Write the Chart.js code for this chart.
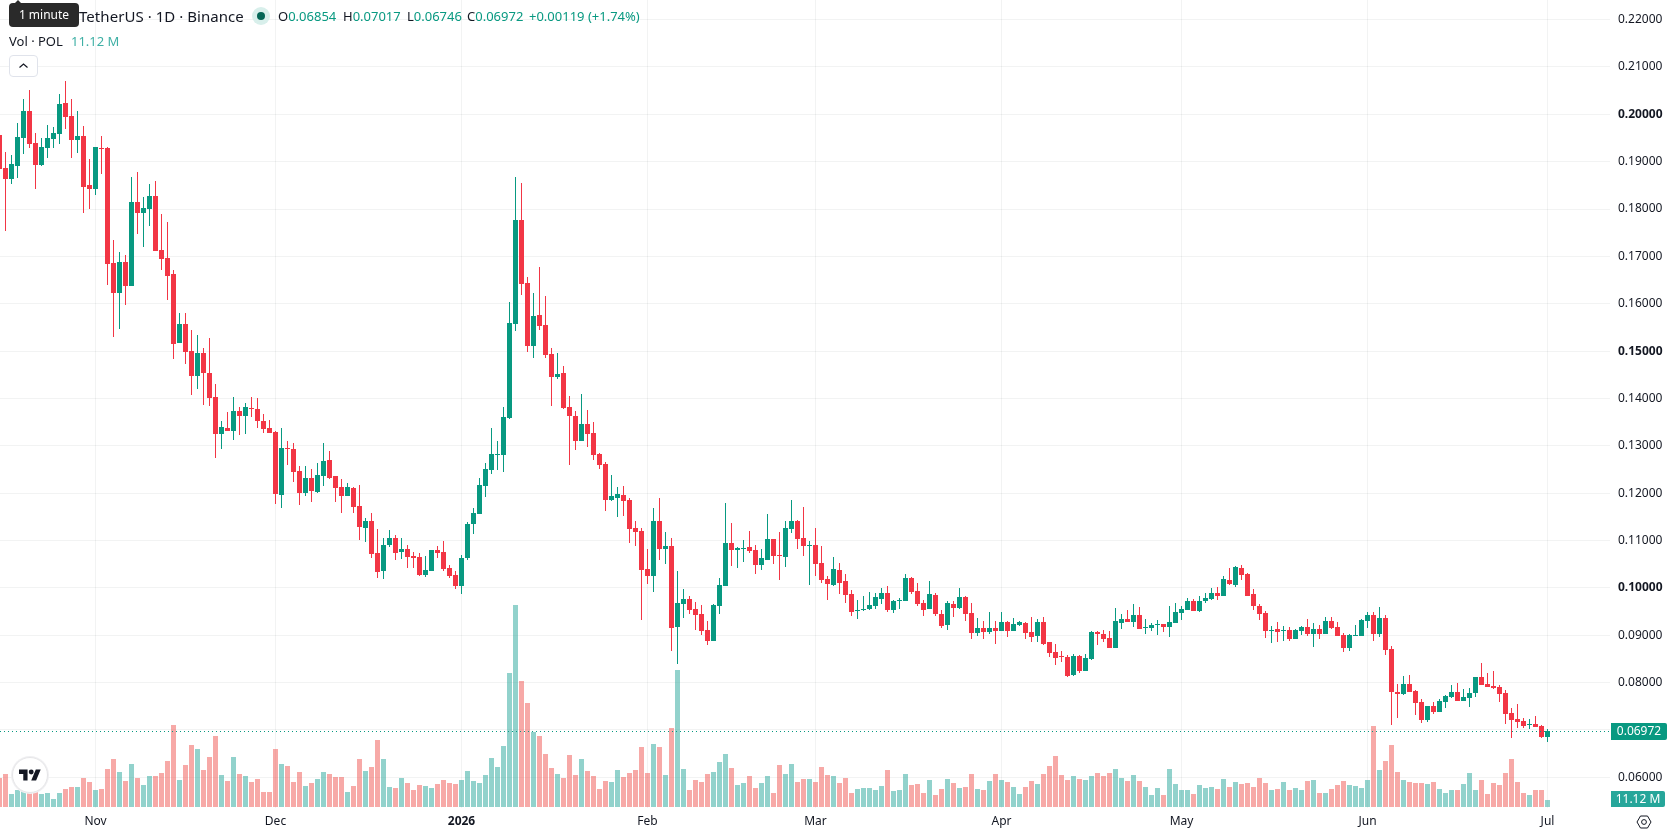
<!DOCTYPE html>
<html>
<head>
<meta charset="utf-8">
<title>POL / TetherUS daily chart</title>
<script src="https://cdn.jsdelivr.net/npm/chart.js@4"></script>
<style>
  html, body { margin: 0; padding: 0; background: #fff; overflow: hidden; }
  body { width: 1678px; height: 835px; position: relative; font-family: "Noto Sans", sans-serif; color: #131722; }
  canvas { position: absolute; left: 0; top: 0; }
  .txt { position: absolute; white-space: nowrap; line-height: 18px; }
  .up { color: #089981; }
  .title { font-size: 15px; left: 79px; top: 7px; letter-spacing: 0.05px; }
  .ohlc { font-size: 13px; top: 7px; }
  .vol { font-size: 13px; top: 32px; }
  .tip { position: absolute; left: 9px; top: 3px; width: 70px; height: 24px; background: #2a2a2a; border-radius: 4px;
         color: #fff; font-size: 12px; line-height: 24px; text-align: center; }
  .tip:before { content: ""; position: absolute; left: 5px; top: -3px; border-left: 4px solid transparent;
         border-right: 4px solid transparent; border-bottom: 4px solid #2a2a2a; }
  .dot { position: absolute; left: 252px; top: 7px; width: 18px; height: 18px; border-radius: 50%; background: #d8efeb; }
  .dot:after { content: ""; position: absolute; left: 5px; top: 5px; width: 8px; height: 8px; border-radius: 50%; background: #056656; }
  .collapse { position: absolute; left: 9px; top: 55px; width: 27px; height: 20px; border: 1px solid #e0e3eb; border-radius: 4px; background: #fff; }
  .logo { position: absolute; left: 12px; top: 757px; width: 34px; height: 34px; border-radius: 50%; background: #fff;
          border: 1px solid #e6e6e8; box-shadow: 0 0 0 1px #f0f0f2; }
</style>
</head>
<body>
<canvas id="chart" width="1678" height="835"></canvas>

<div class="txt title">TetherUS · 1D · Binance</div>
<div class="tip">1 minute</div>
<div class="dot"></div>
<div class="txt ohlc" style="left:278px">O<span class="up">0.06854</span></div>
<div class="txt ohlc" style="left:343px">H<span class="up">0.07017</span></div>
<div class="txt ohlc" style="left:407px">L<span class="up">0.06746</span></div>
<div class="txt ohlc" style="left:467px">C<span class="up">0.06972</span></div>
<div class="txt ohlc up" style="left:529px">+0.00119 (+1.74%)</div>
<div class="txt vol" style="left:9px">Vol · POL</div>
<div class="txt vol" style="left:71px;color:#3fb0a5">11.12 M</div>
<div class="collapse">
  <svg width="27" height="20" viewBox="0 0 27 20"><path d="M9.5 11.5 L13.5 8 L17.5 11.5" fill="none" stroke="#131722" stroke-width="1.2"/></svg>
</div>
<div class="logo">
  <svg style="position:absolute;left:6px;top:9px" width="22" height="15" viewBox="0 0 36 24"><path fill="#131722" d="M14 22H7V11H0V4h14v18zM28 22h-8l7.5-18h8L28 22z"/><circle fill="#131722" cx="20" cy="8" r="4"/></svg>
</div>
<svg style="position:absolute;left:1636px;top:814px" width="16" height="16" viewBox="0 0 16 16">
  <path d="M1 8 L4.5 2 H11.5 L15 8 L11.5 14 H4.5 Z" fill="none" stroke="#131722" stroke-width="1"/>
  <circle cx="8" cy="8" r="2.4" fill="none" stroke="#131722" stroke-width="1"/>
</svg>

<script>
// Daily POL/USDT candles, 16 Oct 2025 to 1 Jul 2026, one entry per day.
const opens = [
.19564,.18867,.18642,.18916,.19507,.20070,.19395,.18937,.19296,.19486,
.19592,.20239,.19965,.19465,.19542,.18508,.18430,.19289,.19289,.16861,
.16235,.16882,.16382,.18149,.17924,.18008,.18276,.17135,.16967,.16629,
.15179,.15573,.15003,.14482,.14961,.14538,.14032,.13258,.13377,.13321,
.13736,.13638,.13800,.13778,.13525,.13377,.13293,.11966,.12951,.12930,
.12465,.12008,.12318,.12029,.12367,.12698,.12360,.12128,.11945,.12107,
.11726,.11269,.11410,.10734,.10361,.10903,.11051,.10762,.10819,.10671,
.10650,.10277,.10361,.10798,.10755,.10417,.10270,.10044,.10639,.11356,
.11568,.12159,.12497,.12813,.12813,.13595,.15565,.17775,.16445,.15101,
.15769,.15558,.14946,.14460,.14545,.13827,.13637,.13109,.13468,.13278,
.12834,.12623,.11863,.11905,.11969,.11863,.11272,.11209,.10406,.10259,
.11420,.10829,.10892,.09182,.09667,.09773,.09562,.09456,.09118,.08886,
.09625,.10036,.10944,.10796,.10817,.10859,.10796,.10479,.10585,.11028,
.10690,.10648,.11239,.11408,.11049,.10880,.10902,.10522,.10184,.10057,
.10374,.10141,.09867,.09508,.09529,.09550,.09614,.09761,.09888,.09529,
.09733,.09719,.10205,.09930,.09677,.09550,.09846,.09445,.09213,.09669,
.09585,.09817,.09479,.09057,.09162,.09078,.09162,.09099,.09289,.09099,
.09226,.09268,.09078,.08993,.09289,.08867,.08655,.08571,.08550,.08170,
.08571,.08254,.08508,.09078,.09036,.08951,.08740,.09268,.09352,.09289,
.09437,.09162,.09162,.09226,.09247,.09183,.09268,.09479,.09542,.09732,
.09521,.09732,.09775,.09901,.09838,.10176,.10070,.10429,.10302,.09873,
.09619,.09471,.09091,.09134,.09091,.09112,.08922,.09091,.09176,.09028,
.09134,.09028,.09302,.09176,.09007,.08732,.08986,.08986,.09302,.09429,
.09028,.09366,.08711,.07803,.07761,.07972,.07824,.07592,.07212,.07508,
.07381,.07592,.07698,.07803,.07613,.07677,.07782,.08120,.07972,.07930,
.07909,.07782,.07360,.07233,.07191,.07107,.07128,.07086,.06854];

const highs = [
.19704,.19205,.19141,.19817,.20324,.20514,.19599,.19493,.19775,.19733,
.20429,.20704,.20324,.20070,.19754,.19057,.19310,.19542,.19310,.17340,
.17093,.17030,.18677,.18782,.18255,.18529,.18592,.17896,.17727,.16713,
.15805,.15805,.15446,.15341,.15066,.15277,.14306,.13525,.13715,.14032,
.13821,.13905,.14032,.14011,.13673,.13546,.13314,.13373,.13099,.13057,
.12571,.12571,.12508,.12634,.13057,.12888,.12360,.12297,.12212,.12128,
.12170,.11473,.11579,.11241,.11051,.11220,.11114,.11051,.10903,.10755,
.10734,.10671,.10798,.10882,.10987,.10481,.10354,.10692,.11399,.11694,
.12328,.12644,.13383,.13109,.13827,.16044,.18683,.18556,.16572,.16234,
.16783,.16171,.15073,.14967,.14693,.14059,.13742,.14101,.13763,.13510,
.12856,.12666,.12391,.12138,.12159,.11905,.11420,.11272,.10829,.11694,
.11905,.11188,.11061,.10364,.09984,.09836,.09710,.09646,.09309,.09667,
.10216,.11788,.11366,.10859,.11007,.11197,.10902,.10817,.11556,.11028,
.11176,.11408,.11852,.11429,.11704,.10986,.11261,.10880,.10247,.10648,
.10522,.10289,.09951,.09740,.09825,.09909,.09888,.09994,.10036,.09740,
.09783,.10289,.10226,.10099,.09740,.10141,.09888,.09529,.09719,.09732,
.10007,.09838,.09690,.09373,.09310,.09500,.09310,.09500,.09310,.09373,
.09310,.09289,.09394,.09352,.09394,.08867,.08824,.08677,.08592,.08613,
.08592,.08613,.09099,.09099,.09120,.09099,.09585,.09458,.09542,.09669,
.09606,.09352,.09268,.09331,.09247,.09627,.09690,.09627,.09796,.09775,
.09838,.09901,.10007,.10028,.10260,.10429,.10471,.10492,.10323,.09978,
.09661,.09514,.09197,.09281,.09197,.09176,.09134,.09197,.09345,.09260,
.09218,.09387,.09387,.09281,.09049,.09028,.09218,.09345,.09492,.09492,
.09598,.09429,.08775,.07972,.08141,.08162,.07846,.07656,.07508,.07592,
.07656,.07740,.07951,.07993,.07867,.07888,.08120,.08416,.08205,.08247,
.07951,.07846,.07466,.07550,.07254,.07233,.07297,.07107,.07017];

const lows = [
.18789,.17544,.18536,.18663,.19169,.19296,.18430,.18909,.19085,.19296,
.19381,.19697,.19085,.19191,.17924,.18008,.18304,.18747,.16404,.15306,
.15475,.15981,.16382,.17480,.17206,.17649,.17121,.16720,.16087,.14841,
.15179,.14736,.14081,.14208,.13870,.13849,.12751,.12941,.13314,.13131,
.13237,.13258,.13610,.13384,.13279,.13279,.11772,.11691,.12592,.12240,
.11755,.11945,.11818,.12008,.12156,.12304,.11818,.11586,.11945,.11586,
.11016,.10973,.10636,.10213,.10192,.10868,.10593,.10614,.10424,.10417,
.10256,.10234,.10361,.10636,.10361,.10213,.09981,.09876,.10596,.11145,
.11568,.11927,.12412,.12497,.12454,.13573,.15431,.16192,.14988,.14861,
.15453,.14861,.13848,.14418,.13785,.12602,.12919,.13109,.12982,.12708,
.12518,.11631,.11842,.11504,.11525,.10955,.10892,.09330,.10090,.09921,
.10596,.10512,.08675,.08389,.09372,.09456,.09118,.09013,.08802,.08886,
.09456,.10036,.10458,.10416,.10543,.10733,.10289,.10374,.10585,.10500,
.10163,.10437,.11155,.10817,.10669,.10057,.10247,.10099,.09740,.10036,
.09867,.09677,.09403,.09339,.09508,.09529,.09550,.09656,.09487,.09466,
.09550,.09719,.09867,.09614,.09403,.09550,.09403,.09149,.09107,.09394,
.09563,.09310,.08930,.08993,.08930,.09036,.08824,.09099,.08972,.09099,
.09204,.08930,.08867,.08867,.08803,.08550,.08381,.08444,.08128,.08149,
.08212,.08254,.08487,.08803,.08867,.08740,.08740,.09141,.09289,.09183,
.09141,.09036,.09099,.09014,.09078,.08972,.09268,.09331,.09542,.09521,
.09500,.09690,.09753,.09753,.09838,.10070,.10028,.10176,.09838,.09535,
.09324,.08944,.08838,.08859,.08880,.08880,.08922,.09007,.08986,.08754,
.08922,.09028,.09134,.08986,.08648,.08669,.08986,.08986,.09155,.08880,
.08965,.08585,.07107,.07254,.07740,.07803,.07318,.07149,.07170,.07339,
.07381,.07466,.07677,.07613,.07613,.07487,.07698,.07951,.07909,.07867,
.07592,.07128,.06832,.07043,.07043,.07022,.07064,.06832,.06746];

const closes = [
.18853,.18642,.18951,.19521,.20070,.19381,.18937,.19310,.19500,.19606,
.20218,.19951,.19465,.19542,.18473,.18430,.19310,.19268,.16847,.16235,
.16882,.16382,.18149,.17924,.18022,.18276,.17121,.16953,.16594,.15158,
.15573,.14989,.14482,.14961,.14545,.14018,.13258,.13398,.13314,.13736,
.13638,.13821,.13778,.13532,.13363,.13279,.11983,.12951,.12930,.12451,
.12008,.12318,.12050,.12381,.12677,.12325,.12114,.11945,.12128,.11712,
.11290,.11410,.10720,.10340,.10903,.11051,.10741,.10819,.10657,.10629,
.10277,.10375,.10798,.10741,.10396,.10256,.10044,.10629,.11356,.11589,
.12180,.12518,.12834,.12834,.13616,.15600,.17775,.16424,.15101,.15748,
.15537,.14925,.14460,.14524,.13806,.13637,.13109,.13468,.13257,.12813,
.12602,.11863,.11948,.11990,.11842,.11251,.11188,.10385,.10259,.11420,
.10829,.10892,.09161,.09688,.09773,.09541,.09435,.09097,.08886,.09646,
.10069,.10944,.10796,.10838,.10838,.10775,.10479,.10627,.11028,.10669,
.10669,.11261,.11408,.11028,.10880,.10902,.10500,.10163,.10078,.10395,
.10099,.09846,.09487,.09529,.09550,.09635,.09804,.09888,.09529,.09719,
.09754,.10205,.09909,.09656,.09529,.09867,.09445,.09191,.09677,.09585,
.09817,.09458,.09057,.09162,.09078,.09162,.09099,.09289,.09099,.09247,
.09289,.09057,.08972,.09289,.08824,.08634,.08529,.08550,.08149,.08571,
.08254,.08529,.09078,.09036,.08930,.08740,.09310,.09352,.09289,.09437,
.09141,.09183,.09226,.09247,.09183,.09289,.09500,.09563,.09732,.09521,
.09732,.09796,.09901,.09838,.10197,.10091,.10450,.10281,.09838,.09619,
.09450,.09091,.09112,.09070,.09112,.08922,.09112,.09176,.09028,.09134,
.09028,.09302,.09155,.08986,.08732,.09007,.09007,.09324,.09429,.09028,
.09366,.08690,.07803,.07761,.07972,.07803,.07571,.07212,.07508,.07381,
.07613,.07719,.07803,.07613,.07698,.07782,.08120,.07951,.07909,.07888,
.07761,.07339,.07212,.07170,.07086,.07128,.07064,.06853,.06972];

// Traded volume per day, in millions of POL.
const volumes = [
46.6,52.4,20.7,27.0,25.4,23.8,25.4,20.7,22.2,12.7,
22.2,28.6,31.8,31.8,46.1,39.7,27.0,28.6,60.4,76.2,
55.6,41.3,68.3,46.1,34.9,49.2,49.2,54.0,73.1,130.3,
42.9,66.7,98.5,92.1,58.8,79.4,112.8,50.8,41.3,79.4,
52.4,49.2,39.7,44.5,23.8,23.8,92.1,68.3,65.1,39.7,
55.6,33.4,38.1,44.5,55.6,52.4,47.7,47.7,23.8,33.4,
76.2,57.2,63.5,106.4,76.2,31.8,30.2,46.1,38.1,27.0,
34.9,33.4,30.2,36.5,42.9,38.1,36.5,42.9,57.2,41.3,
38.1,50.8,77.8,63.5,96.9,212.9,320.9,200.1,165.2,119.1,
112.8,84.2,62.0,52.4,46.1,82.6,50.8,76.2,57.2,49.2,
28.6,41.3,39.7,58.8,47.7,54.0,58.8,95.3,54.0,100.1,
95.3,50.8,125.5,217.6,60.4,27.0,42.9,39.7,52.4,55.6,
71.5,84.2,62.0,34.9,38.1,49.2,30.2,38.1,49.2,22.2,
66.7,52.4,68.3,39.7,44.5,44.5,39.7,63.5,50.8,49.2,
38.1,46.1,22.2,28.6,30.2,30.2,27.0,33.4,58.8,25.4,
27.0,52.4,34.9,36.5,22.2,42.9,19.1,28.6,44.5,38.1,
30.2,31.8,52.4,28.6,27.0,41.3,52.4,42.9,39.7,31.8,
20.7,31.8,41.3,36.5,52.4,65.1,81.0,50.8,42.9,49.2,
44.5,42.9,49.2,54.0,49.2,54.0,60.4,46.1,41.3,50.8,
41.3,31.8,19.1,30.2,19.1,60.4,36.5,27.0,27.0,20.7,
34.9,30.2,31.8,28.6,44.5,31.8,39.7,36.5,38.1,31.8,
46.1,38.1,27.0,28.6,39.7,27.0,30.2,27.0,41.3,42.9,
22.2,22.2,28.6,34.9,41.3,34.9,33.4,30.2,42.9,128.7,
58.8,73.1,98.5,55.6,42.9,39.7,38.1,38.1,36.5,39.7,
28.6,22.2,27.0,27.0,36.5,54.0,27.0,42.9,20.7,38.1,
34.9,54.0,76.2,39.7,22.2,19.1,27.0,27.0,11.12];

// Month labels on the time axis and the day index each one falls on.
const monthDays = [16, 46, 77, 108, 136, 167, 197, 228, 258];
const monthLabels = ['Nov', 'Dec', '2026', 'Feb', 'Mar', 'Apr', 'May', 'Jun', 'Jul'];
const priceTicks = [.06,.07,.08,.09,.10,.11,.12,.13,.14,.15,.16,.17,.18,.19,.20,.21,.22];
const boldPriceTicks = [.10,.15,.20];
const lastClose = 0.06972;
const lastVolumeLabel = '11.12 M';

const UP = '#089981', DOWN = '#f23645';
const UP_VOL = 'rgba(38,166,154,0.5)', DOWN_VOL = 'rgba(239,83,80,0.5)';
const FONT = '"Noto Sans", sans-serif';

const isUp = i => closes[i] >= opens[i];
const candleColor = ctx => isUp(ctx.dataIndex) ? UP : DOWN;

// Floating bars keep crisp edges when snapped to whole pixels.
const snapBars = {
  id: 'snapBars',
  afterDatasetsUpdate(chart) {
    chart.data.datasets.forEach((ds, k) => {
      chart.getDatasetMeta(k).data.forEach(el => {
        const top = Math.round(Math.min(el.y, el.base));
        let bottom = Math.round(Math.max(el.y, el.base));
        if (bottom === top) bottom = top + 1;
        el.y = top; el.base = bottom;
      });
    });
  }
};

// Dotted last-price line over the bars, and the value tags on the price axis.
const lastPrice = {
  id: 'lastPrice',
  afterDatasetsDraw(chart) {
    const { ctx, chartArea, scales } = chart;
    const y = Math.round(scales.y.getPixelForValue(lastClose)) + 0.5;
    ctx.save();
    ctx.strokeStyle = UP;
    ctx.lineWidth = 1;
    ctx.setLineDash([1, 3]);
    ctx.beginPath();
    ctx.moveTo(chartArea.left, y);
    ctx.lineTo(chartArea.right, y);
    ctx.stroke();
    ctx.restore();
  },
  afterDraw(chart) {
    const { ctx, chartArea, scales } = chart;
    const x = chartArea.right + 1;
    const y = Math.round(scales.y.getPixelForValue(lastClose));
    const tag = (top, w, h, fill, text) => {
      ctx.fillStyle = fill;
      ctx.beginPath();
      ctx.roundRect(x, top, w, h, [0, 2, 2, 0]);
      ctx.fill();
      ctx.fillStyle = '#fff';
      ctx.font = '12px ' + FONT;
      ctx.textAlign = 'center';
      ctx.textBaseline = 'middle';
      ctx.fillText(text, x + w / 2, top + h / 2 + 0.5);
    };
    ctx.save();
    tag(y - 8, 56, 17, UP, lastClose.toFixed(5));
    tag(scales.vol.getPixelForValue(0) - 16, 54, 16, '#26a69a', lastVolumeLabel);
    ctx.restore();
  }
};

const PLOT_RIGHT_GAP = 68, AXIS_HEIGHT = 27;
const clearPadding = s => { s.paddingTop = s.paddingBottom = s.paddingLeft = s.paddingRight = 0; };
const tickValue = c => (c.tick ? c.tick.value : null);

new Chart(document.getElementById('chart'), {
  type: 'bar',
  data: {
    datasets: [
      {
        label: 'Candle bodies',
        data: opens.map((o, i) => ({ x: i, y: [o, closes[i]] })),
        backgroundColor: candleColor,
        barThickness: 5, grouped: false, inflateAmount: 0, order: 1, yAxisID: 'y'
      },
      {
        label: 'Wicks',
        data: highs.map((h, i) => ({ x: i, y: [lows[i], h] })),
        backgroundColor: candleColor,
        barThickness: 1, grouped: false, inflateAmount: 0, order: 2, yAxisID: 'y'
      },
      {
        label: 'Volume',
        data: volumes.map((v, i) => ({ x: i, y: v })),
        backgroundColor: ctx => isUp(ctx.dataIndex) ? UP_VOL : DOWN_VOL,
        barThickness: 5, grouped: false, inflateAmount: 0, order: 3, yAxisID: 'vol'
      }
    ]
  },
  options: {
    responsive: false,
    animation: false,
    events: [],
    layout: { padding: 0 },
    plugins: { legend: { display: false }, tooltip: { enabled: false } },
    scales: {
      x: {
        type: 'linear',
        offset: false,
        min: 0.5 / 6,
        max: 1610.5 / 6,
        grid: { color: 'rgba(42,46,57,0.06)', drawTicks: false, offset: false },
        border: { display: false },
        afterBuildTicks: s => { s.ticks = monthDays.map(v => ({ value: v })); },
        afterFit: s => { s.height = AXIS_HEIGHT; clearPadding(s); },
        ticks: {
          autoSkip: false, maxRotation: 0, padding: 6, color: '#131722',
          font: c => ({ family: FONT, size: 12, weight: monthLabels[monthDays.indexOf(tickValue(c))] === '2026' ? '700' : '400' }),
          callback: v => monthLabels[monthDays.indexOf(v)]
        }
      },
      y: {
        position: 'right',
        min: 0.20 - (808 - 114.3) / 4736,
        max: 0.20 + 114.3 / 4736,
        grid: { color: 'rgba(42,46,57,0.06)', drawTicks: false },
        border: { display: false },
        afterBuildTicks: s => { s.ticks = priceTicks.map(v => ({ value: v })); },
        afterFit: s => { s.width = PLOT_RIGHT_GAP; clearPadding(s); },
        ticks: {
          autoSkip: false, padding: 8, align: 'center', crossAlign: 'near', color: '#131722',
          font: c => ({ family: FONT, size: 12, weight: boldPriceTicks.includes(tickValue(c)) ? '700' : '400' }),
          callback: v => v.toFixed(5)
        }
      },
      vol: {
        display: false,
        min: -1.5885,
        max: 807 * 1.5885,
        position: 'left'
      }
    }
  },
  plugins: [snapBars, lastPrice]
});
</script>
</body>
</html>
